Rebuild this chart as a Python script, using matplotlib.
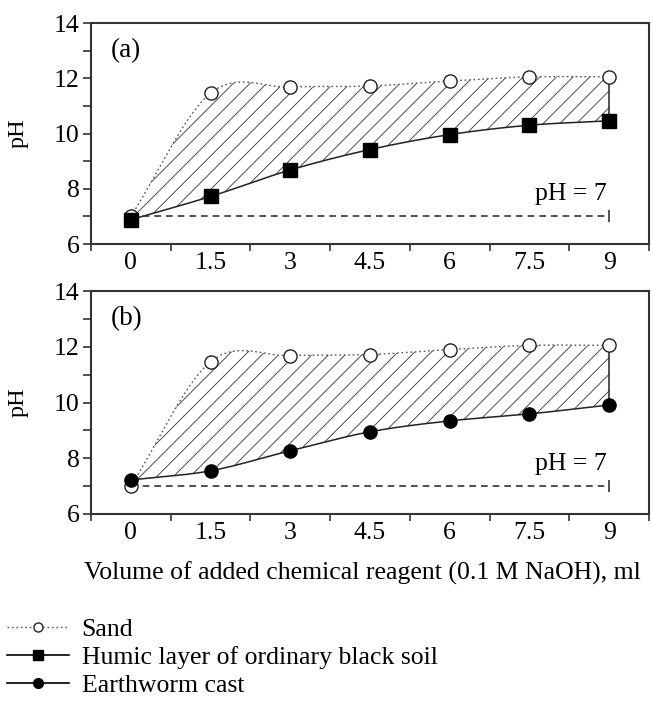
import matplotlib
matplotlib.use('Agg')
import matplotlib.pyplot as plt
import numpy as np
from matplotlib.lines import Line2D

plt.rcParams['font.family'] = ['Liberation Serif', 'DejaVu Serif']
plt.rcParams['hatch.linewidth'] = 0.6
plt.rcParams['hatch.color'] = '#333333'

# [START data]
volume = [0, 1.5, 3, 4.5, 6, 7.5, 9]
sand = [7.0, 11.46, 11.68, 11.72, 11.9, 12.05, 12.05]
humic = [6.88, 7.72, 8.68, 9.42, 9.96, 10.3, 10.46]
cast = [7.22, 7.55, 8.27, 8.95, 9.34, 9.59, 9.91]
x_ticklabels = ['0', '1.5', '3', '4.5', '6', '7.5', '9']
panel_labels = ['(a)', '(b)']
# [END data]

FS = 18.5


def smooth(xs, ys, n=30):
    # excel-like smoothed line (catmull-rom through the points)
    xs = np.asarray(xs, float)
    ys = np.asarray(ys, float)
    m = np.zeros_like(ys)
    m[1:-1] = (ys[2:] - ys[:-2]) / 2
    m[0] = ys[1] - ys[0]
    m[-1] = ys[-1] - ys[-2]
    out_x, out_y = [], []
    for i in range(len(xs) - 1):
        t = np.linspace(0, 1, n, endpoint=(i == len(xs) - 2))
        h00 = 2 * t**3 - 3 * t**2 + 1
        h10 = t**3 - 2 * t**2 + t
        h01 = -2 * t**3 + 3 * t**2
        h11 = t**3 - t**2
        out_x.append(xs[i] + t * (xs[i + 1] - xs[i]))
        out_y.append(h00 * ys[i] + h10 * m[i] + h01 * ys[i + 1] + h11 * m[i + 1])
    return np.concatenate(out_x), np.concatenate(out_y)


fig = plt.figure(figsize=(6.53, 7.04), dpi=100)
ax_a = fig.add_axes([91 / 653, 1 - 244 / 704, 558 / 653, 221 / 704])
ax_b = fig.add_axes([91 / 653, 1 - 514 / 704, 558 / 653, 223 / 704])

for ax, lower, marker, ms, lab in [(ax_a, humic, 's', 10, panel_labels[0]),
                                    (ax_b, cast, 'o', 9.5, panel_labels[1])]:
    sx, sy = smooth(volume, sand)
    lx, ly = smooth(volume, lower)

    ax.fill_between(sx, sy, ly, facecolor='none', edgecolor='#333333',
                    hatch='//', linewidth=0)
    ax.plot(sx, sy, linestyle=(0, (1.2, 2)), color='#555555', linewidth=1.0)
    ax.plot(lx, ly, '-', color='#222222', linewidth=1.1)
    ax.plot([volume[-1], volume[-1]], [lower[-1], sand[-1]], '-', color='#222222', linewidth=1.1)

    # pH = 7 reference line
    ax.plot([volume[0], volume[-1]], [7, 7], linestyle=(0, (4, 3)), color='#333333', linewidth=1.2)
    ax.plot([volume[-1]], [7], marker='|', markersize=9, color='#333333', markeredgewidth=1.2)
    ax.text(volume[-1] - 0.05, 7.4, 'pH = 7', ha='right', va='bottom', fontsize=FS)

    ax.plot(volume, sand, 'o', markersize=9.5, markerfacecolor='white',
            markeredgecolor='#222222', markeredgewidth=1.0, zorder=4)
    ax.plot(volume, lower, marker, markersize=ms, color='black', linestyle='none', zorder=5)

    ax.text(0.035, 0.875, lab, transform=ax.transAxes, fontsize=FS + 1, ha='left', va='center')

    ax.set_xlim(-0.75, 9.75)
    ax.set_ylim(6, 14)
    ax.set_xticks(np.arange(-0.75, 9.76, 1.5))
    ax.set_xticklabels([])
    ax.set_xticks(volume, minor=True)
    ax.set_xticklabels(x_ticklabels, minor=True, fontsize=FS)
    ax.tick_params(axis='x', which='minor', length=0, pad=6)
    ax.tick_params(axis='x', which='major', direction='out', length=5, width=1.2, color='#333333')
    ax.set_yticks([6, 8, 10, 12, 14])
    ax.set_yticks([7, 9, 11, 13], minor=True)
    ax.tick_params(axis='y', which='both', direction='out', length=6, width=1.2,
                   color='#333333', labelsize=FS, pad=2)
    ax.set_ylabel('pH', fontsize=17.5)
    ax.yaxis.set_label_coords(-0.112, 0.5)
    for sp in ax.spines.values():
        sp.set_linewidth(1.5)
        sp.set_color('#333333')

fig.text(362 / 653, 1 - 573 / 704, 'Volume of added chemical reagent (0.1 M NaOH), ml',
         ha='center', va='center', fontsize=FS)

handles = [
    Line2D([], [], linestyle=(0, (1.2, 2)), color='#555555', linewidth=1.0, marker='o',
           markersize=6.5, markerfacecolor='white', markeredgecolor='#222222'),
    Line2D([], [], linestyle='-', color='black', linewidth=1.2, marker='s', markersize=7.5),
    Line2D([], [], linestyle='-', color='black', linewidth=1.2, marker='o', markersize=7),
]
labels = ['Sand', 'Humic layer of ordinary black soil', 'Earthworm cast']
fig.legend(handles, labels, loc='upper left', bbox_to_anchor=(7 / 653, 1 - 618 / 704),
           frameon=False, fontsize=FS, handlelength=2.4, handletextpad=0.5,
           labelspacing=0.2, borderpad=0, borderaxespad=0)

fig.savefig('out.png', dpi=100)
